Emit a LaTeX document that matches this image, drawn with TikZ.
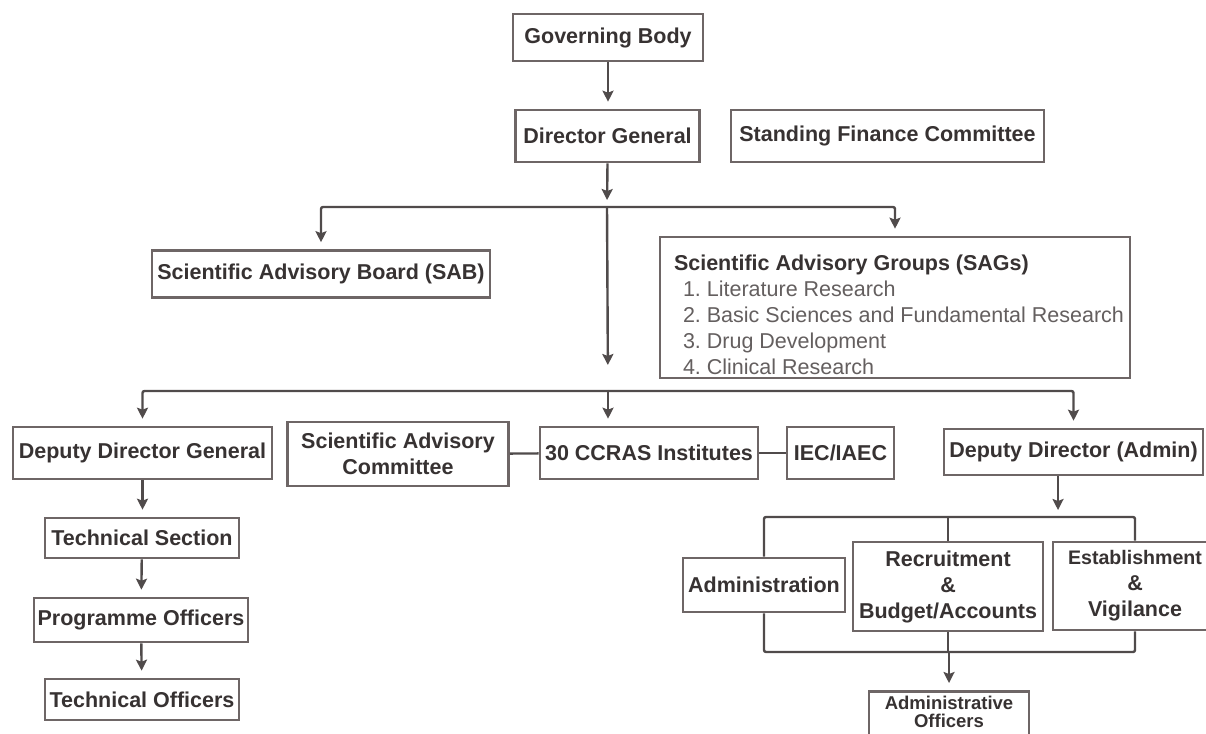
\documentclass[tikz,border=0pt]{standalone}
\usepackage{fontspec}
\setmainfont{Liberation Sans}
\usetikzlibrary{arrows.meta}
\frenchspacing

\definecolor{boxline}{RGB}{110,102,102}
\definecolor{linkline}{RGB}{80,75,75}
\definecolor{inktext}{RGB}{55,50,50}
\definecolor{itemtext}{RGB}{100,95,95}

% one numbered line of the SAGs box
\newcommand{\sagitem}[1]{{\mdseries\color{itemtext}\hspace*{17pt}#1}}

\begin{document}
\begin{tikzpicture}[x=1pt, y=-1pt,
    orgbox/.style={draw=boxline, line width=2.6pt, fill=white, text=inktext,
      font=\fontsize{21.5}{26}\selectfont\bfseries, inner sep=0pt, align=center},
    link/.style={draw=linkline, line width=2.4pt, rounded corners=2pt},
    arr/.style={link, -{Stealth[length=11pt, width=11pt, inset=2pt]}, shorten >=7pt}]

    \useasboundingbox (0,0) rectangle (1206,733);

    % Top of the chart
    \node[orgbox, minimum width=190pt, minimum height=47pt] (gb) at (608,37.5) {Governing Body};
    \node[orgbox, minimum width=184pt, minimum height=52pt] (dg) at (607.5,136) {Director General};
    \node[orgbox, minimum width=313pt, minimum height=52pt] (sfc) at (887.5,136) {Standing Finance Committee};

    % Advisory bodies
    \node[orgbox, minimum width=338pt, minimum height=47pt] (sab) at (321,274) {Scientific Advisory Board (SAB)};
    \node[orgbox, minimum width=470pt, minimum height=141pt,
      inner xsep=4pt, align=left] (sags) at (895,307.5)
      {\rule{0pt}{30pt}\hspace*{8pt}Scientific Advisory Groups (SAGs)\\
       \sagitem{1. Literature Research}\\
       \sagitem{2. Basic Sciences and Fundamental Research}\\
       \sagitem{3. Drug Development}\\
       \sagitem{4. Clinical Research}};

    % Middle row
    \node[orgbox, minimum width=259pt, minimum height=52pt] (ddg) at (142.5,453) {Deputy Director General};
    \node[orgbox, minimum width=221pt, minimum height=64pt] (sac) at (398,454) {Scientific Advisory\\Committee};
    \node[orgbox, minimum width=218pt, minimum height=52pt] (ccras) at (649,453) {30 CCRAS Institutes};
    \node[orgbox, minimum width=107pt, minimum height=52pt] (iec) at (840.5,453) {IEC/IAEC};
    \node[orgbox, minimum width=259pt, minimum height=46pt] (dda) at (1073.5,452) {Deputy Director (Admin)};

    % Technical side
    \node[orgbox, minimum width=194pt, minimum height=40pt] (tsec) at (142,538) {Technical Section};
    \node[orgbox, minimum width=214pt, minimum height=44pt] (poff) at (141,620) {Programme Officers};
    \node[orgbox, minimum width=194pt, minimum height=41pt] (toff) at (142,699.5) {Technical Officers};

    % Admin side
    \node[orgbox, minimum width=162pt, minimum height=54pt] (admn) at (764,585) {Administration};
    \node[orgbox, minimum width=190pt, minimum height=89pt] (recr) at (948,586.5) {Recruitment\\\&\\Budget/Accounts};
    \node[orgbox, minimum width=164pt, minimum height=88pt] (estb) at (1135,586)
      {{\fontsize{19.6}{26}\selectfont Establishment}\\\&\\Vigilance};
    \node[orgbox, minimum width=160pt, minimum height=45pt, anchor=north,
      font=\fontsize{18.5}{18}\selectfont\bfseries] (aoff) at (949,690)
      {\rule{0pt}{14pt}Administrative\\Officers\rule[-5pt]{0pt}{5pt}};

    % Bus points
    \coordinate (b1) at (607,207);
    \coordinate (b2) at (608,391);
    \coordinate (b3) at (1058,517);
    \coordinate (b4) at (949,652);

    % Connectors
    \draw[arr] (gb.south) -- (gb.south |- dg.north);
    \draw[arr] (dg.south) -- (b1);
    \draw[arr] (b1) -| (sab.north);
    \draw[arr] (b1) -| (sags.north);
    \draw[arr, shorten >=26pt] (b1) -- (b2);
    \draw[arr] (b2) -| (ddg.north);
    \draw[arr] (b2) -- (b2 |- ccras.north);
    \draw[arr] (b2) -| (dda.north);
    \draw[link] (sac) -- (ccras);
    \draw[link] (ccras) -- (iec);

    \draw[arr] (ddg.south) -- (ddg.south |- tsec.north);
    \draw[arr] (tsec) -- (poff);
    \draw[arr] (poff) -- (toff);

    \draw[arr] (b3 |- dda.south) -- (b3);
    \draw[link] (admn.north) |- (estb.north |- b3) -- (estb.north);
    \draw[link] (recr.north) -- (recr.north |- b3);
    \draw[link] (admn.south) |- (estb.south |- b4) -- (estb.south);
    \draw[link] (recr.south) -- (recr.south |- b4);
    \draw[arr] (b4) -- (aoff.north);
\end{tikzpicture}
\end{document}
